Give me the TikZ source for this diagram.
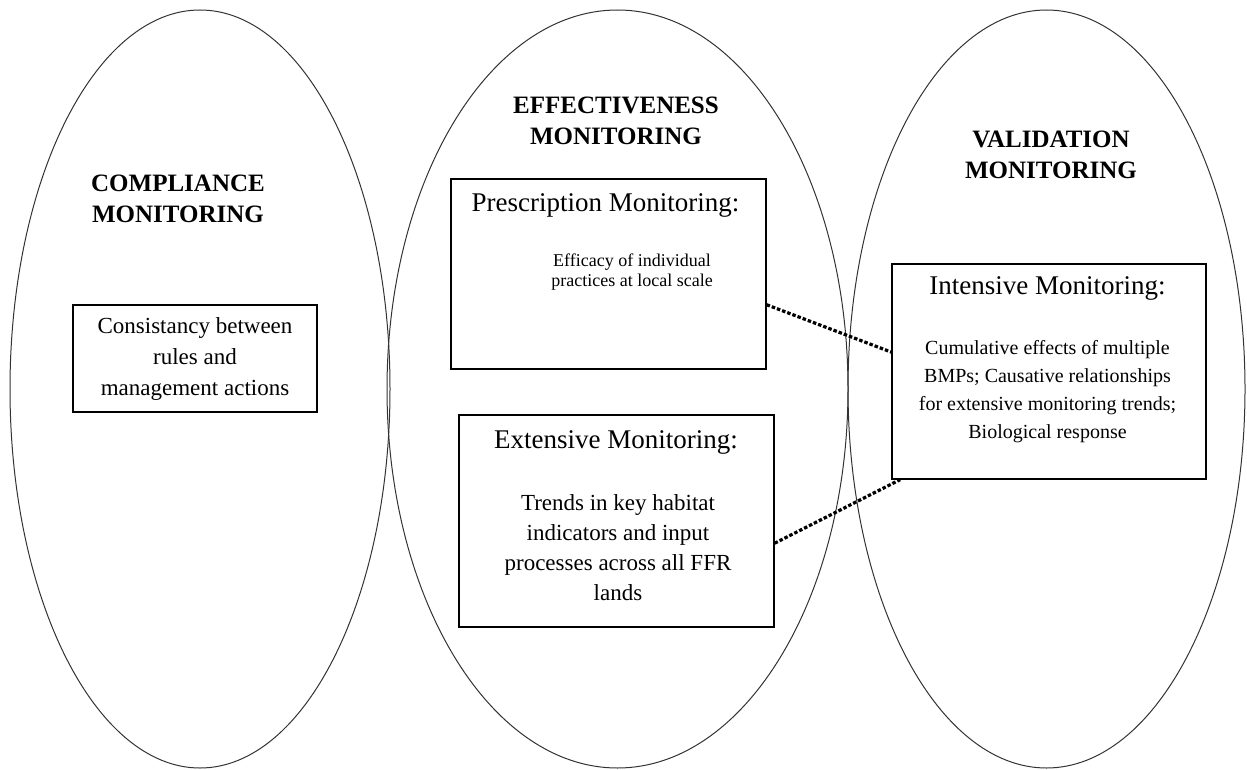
\documentclass[tikz,border=0pt]{standalone}
\usepackage{fontspec}
\setmainfont{Liberation Serif}
\usetikzlibrary{positioning}

\begin{document}
\begin{tikzpicture}[x=1pt, y=-1pt,
  every node/.style={align=center, inner sep=0pt},
  oval/.style={line width=1pt, black!80},
  box/.style={draw, line width=1.3pt},
  title/.style={font=\fontsize{25}{31}\selectfont\bfseries},
  head/.style={font=\fontsize{27}{32}\selectfont},
  link/.style={line width=3.2pt, dash pattern=on 3.5pt off 2pt}]

\useasboundingbox (0,0) rectangle (1247,770);

% the three monitoring ovals
\draw[oval] (200,389)   ellipse [x radius=190,   y radius=379];
\draw[oval] (617.5,389) ellipse [x radius=230.5, y radius=379];
\draw[oval] (1046.5,389) ellipse [x radius=198.5, y radius=379];

% titles
\node[title] (compl)  at (178,199)    {COMPLIANCE\\MONITORING};
\node[title] (effect) at (616,120.5)  {EFFECTIVENESS\\MONITORING};
\node[title] (valid)  at (1051,155)   {VALIDATION\\MONITORING};

% compliance box
\node[box, minimum width=244pt, minimum height=107pt] (consist) at (195,358.5) {};
\node[font=\fontsize{23}{31}\selectfont] (consisttxt) at (195,359)
  {Consistancy between\\rules and\\management actions};

% effectiveness boxes
\node[box, minimum width=315pt, minimum height=190pt] (prescr) at (608.5,274) {};
\node[head] (prescrhead) at (605.5,205) {Prescription Monitoring:};
\node[font=\fontsize{18}{20}\selectfont] (prescrtxt) at (632,272)
  {Efficacy of individual\\practices at local scale};

\node[box, minimum width=315pt, minimum height=212pt] (extens) at (616.5,521) {};
\node[head] (extenshead) at (616,442) {Extensive Monitoring:};
\node[font=\fontsize{23}{30}\selectfont] (extenstxt) at (618,548)
  {Trends in key habitat\\indicators and input\\processes across all FFR\\lands};

% validation box
\node[box, minimum width=314pt, minimum height=215pt] (intens) at (1049,371.5) {};
\node[head] (intenshead) at (1047.5,288) {Intensive Monitoring:};
\node[font=\fontsize{20}{28}\selectfont] (intenstxt) at (1047.5,391.5)
  {Cumulative effects of multiple\\BMPs; Causative relationships\\for extensive monitoring trends;\\Biological response};

% dotted links
\draw[link] (prescr.-11) -- (intens.173);
\draw[link] (extens.-8) -- (intens.-144);

\end{tikzpicture}
\end{document}
